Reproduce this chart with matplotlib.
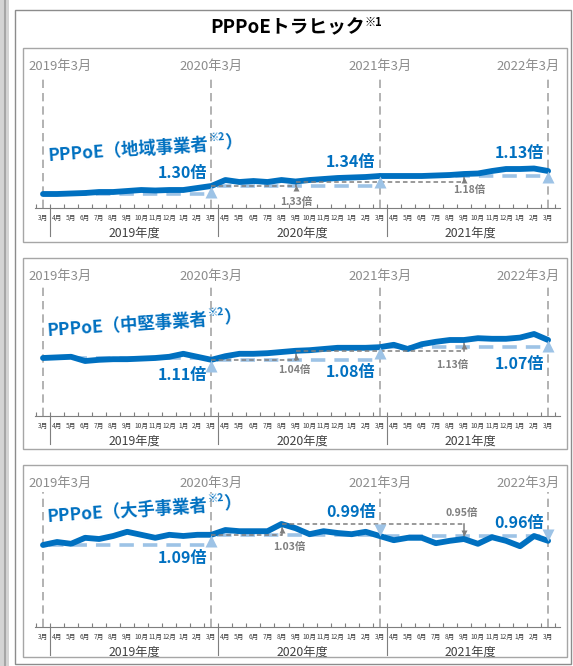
import numpy as np
import matplotlib
matplotlib.use('Agg')
import matplotlib.pyplot as plt
from matplotlib.patches import Rectangle
from matplotlib.lines import Line2D
from matplotlib.transforms import offset_copy

plt.rcParams['font.family'] = ['Noto Sans CJK JP', 'DejaVu Sans']

# ---- data (relative traffic, 2019年3月 = 1.00) ----
months = ['3月'] + ['4月', '5月', '6月', '7月', '8月', '9月', '10月', '11月',
                    '12月', '1月', '2月', '3月'] * 3
fy_labels = ['2019年度', '2020年度', '2021年度']
march_labels = ['2019年3月', '2020年3月', '2021年3月', '2022年3月']
panel_names = ['地域事業者', '中堅事業者', '大手事業者']

regional = [1.00, 1.00, 1.02, 1.04, 1.08, 1.08, 1.12, 1.16, 1.14, 1.16, 1.16, 1.24, 1.32,
            1.56, 1.48, 1.52, 1.48, 1.56, 1.50, 1.56, 1.60, 1.64, 1.66, 1.68, 1.72,
            1.72, 1.72, 1.72, 1.74, 1.76, 1.80, 1.82, 1.92, 2.00, 2.00, 2.02, 1.92]
midsize = [1.00, 1.01, 1.02, 0.95, 0.97, 0.98, 0.98, 0.99, 1.00, 1.02, 1.07, 1.02, 0.97,
           1.03, 1.07, 1.07, 1.08, 1.10, 1.12, 1.13, 1.15, 1.17, 1.17, 1.17, 1.18,
           1.22, 1.15, 1.23, 1.27, 1.30, 1.30, 1.33, 1.32, 1.32, 1.34, 1.40, 1.30]
large = [1.00, 1.05, 1.02, 1.12, 1.10, 1.15, 1.22, 1.17, 1.12, 1.17, 1.15, 1.17, 1.17,
         1.25, 1.23, 1.23, 1.23, 1.35, 1.28, 1.18, 1.23, 1.20, 1.18, 1.22, 1.15,
         1.08, 1.12, 1.12, 1.03, 1.07, 1.10, 1.02, 1.13, 1.07, 0.98, 1.15, 1.07]

# year-on-year ratios (March vs previous March)
yoy_regional = [1.30, 1.34, 1.13]
yoy_midsize = [1.11, 1.08, 1.07]
yoy_large = [1.09, 0.99, 0.96]

# intermediate comparisons: (from month index, to month index), ratio
mid_regional = [((12, 18), 1.33), ((18, 30), 1.18)]
mid_midsize = [((12, 18), 1.04), ((18, 30), 1.13)]
mid_large = [((12, 17), 1.03), ((17, 30), 0.95)]

series = [regional, midsize, large]
yoys = [yoy_regional, yoy_midsize, yoy_large]
mids = [mid_regional, mid_midsize, mid_large]

# ---- layout (pixels of the 573x666 picture) ----
W, H = 573, 666
BLUE = '#0070C0'
LIGHT = '#9DC3E6'
GRAY = '#7f7f7f'

layout = [
    dict(box=(23, 48, 567, 242), axis_y=208, top_y=75, ref=(194, 25), name_xy=(145, 149),
         yoy_dy=[-13, -14, -18], mid_off=[(1, 16), (5, 8)]),
    dict(box=(23, 258, 567, 449), axis_y=416, top_y=285, ref=(358, 60), name_xy=(144, 324),
         yoy_dy=[15, 25, 24], mid_off=[(-1, 10), (-12, 14)]),
    dict(box=(23, 465, 567, 657), axis_y=627, top_y=492, ref=(545, 60), name_xy=(144, 510),
         yoy_dy=[23, -24, -18], mid_off=[(8, 12), (-2, -11)]),
]

fig = plt.figure(figsize=(W / 100, H / 100), dpi=100)
renderer = fig.canvas.get_renderer()


def pixbox(x0, y0, x1, y1, **kw):
    fig.add_artist(Rectangle((x0 / W, 1 - y1 / H), (x1 - x0) / W, (y1 - y0) / H,
                             transform=fig.transFigure, fill=False, **kw))


def draw_pieces(cx, cy, pieces, angle=0, **kw):
    """Draw a run of text pieces (text, size, rise in pt) centred at pixel (cx, cy)."""
    widths = []
    for s, size, rise in pieces:
        t = fig.text(0, 0, s, fontsize=size, **kw)
        widths.append(t.get_window_extent(renderer).width)
        t.remove()
    a = np.radians(angle)
    ux, uy = np.cos(a), np.sin(a)
    total = sum(widths)
    px, py = cx - ux * total / 2, (H - cy) - uy * total / 2
    for (s, size, rise), w in zip(pieces, widths):
        r = rise * 100 / 72
        fig.text((px - uy * r) / W, (py + ux * r) / H, s, fontsize=size, rotation=angle,
                 rotation_mode='anchor', ha='left', va='center', **kw)
        px += ux * w
        py += uy * w


# left window strip and outer frame
fig.add_artist(Rectangle((0, 0), 9 / W, 1, transform=fig.transFigure,
                         facecolor='#d4d4d4', edgecolor='none'))
fig.add_artist(Line2D([5 / W, 5 / W], [0, 1], transform=fig.transFigure, color='#a6a6a6', lw=1.5))
pixbox(14.5, 9.5, 571, 664, edgecolor='#8c8c8c', lw=1)

draw_pieces(296, 28, [('PPPoEトラヒック', 13.5, 0), ('※1', 8, 4)],
            fontweight='bold', color='black')

x0_px, dx_px = 43, 14.03
xlim = ((35 - x0_px) / dx_px, (560 - x0_px) / dx_px)
x = np.arange(len(months))

for vals, yoy, mid, lay, name in zip(series, yoys, mids, layout, panel_names):
    pixbox(*lay['box'], edgecolor='#a6a6a6', lw=1)
    ay, ty = lay['axis_y'], lay['top_y']
    y0, k = lay['ref']
    h = ay - ty
    ax = fig.add_axes([35 / W, 1 - ay / H, 525 / W, h / H])
    ax.patch.set_alpha(0)
    ax.set_xlim(*xlim)
    ax.set_ylim(1 + (y0 - ay) / k, 1 + (y0 - ty) / k)
    for side in ['top', 'left', 'right']:
        ax.spines[side].set_visible(False)
    ax.spines['bottom'].set_color(GRAY)
    ax.set_yticks([])
    ax.set_xticks(x)
    ax.set_xticklabels(months, fontsize=4.8, color='#404040')
    ax.tick_params(axis='x', which='major', length=0, pad=4.5)
    ax.set_xticks(np.arange(-0.5, len(months), 1), minor=True)
    ax.tick_params(axis='x', which='minor', direction='in', length=3, width=0.8, color=GRAY)

    xt = ax.get_xaxis_transform()
    for j in range(3):
        sep = 12 * j + 0.5
        ax.plot([sep, sep], [0, -28 / h], transform=xt, clip_on=False, color=GRAY, lw=0.8)
        ax.text(12 * j + 6.5, -25 / h, fy_labels[j], transform=xt, ha='center', va='center',
                fontsize=8.8, color='#404040')

    # March reference lines and labels
    has = ['left', 'center', 'center', 'right']
    lx = [(28 - x0_px) / dx_px, 12, 24, xlim[1]]
    for j, m in enumerate([0, 12, 24, 36]):
        ax.axvline(m, color='#a6a6a6', lw=1.2, ls=(0, (5, 3)), zorder=0)
        ax.text(lx[j], 1 + 9 / h, march_labels[j], transform=xt, ha=has[j], va='center',
                fontsize=9.5, color='#8c8c8c')

    ax.plot(x, vals, color=BLUE, lw=4.2, solid_joinstyle='round', solid_capstyle='round', zorder=3)

    # year-on-year comparisons
    for j, r in enumerate(yoy):
        s, e = 12 * j, 12 * j + 12
        ax.plot([s + 0.4, e], [vals[s], vals[s]], color=LIGHT, lw=2.6, ls=(0, (4, 2.5)), zorder=1)
        up = r >= 1
        ms = 8.5
        tr = offset_copy(ax.transData, fig=fig, y=-ms / 2 if up else ms / 2, units='points')
        ax.plot(e, vals[e], marker='^' if up else 'v', ms=ms, color=LIGHT, mec='none',
                transform=tr, zorder=5)
        ax.annotate(f'{r:.2f}倍', xy=(e, vals[e]), xytext=(-3, -lay['yoy_dy'][j] * 0.72),
                    textcoords='offset points', ha='right', va='center', fontsize=11.5,
                    fontweight='bold', color=BLUE, zorder=6)

    # intermediate comparisons
    for ((s, e), r), (ox, oy) in zip(mid, lay['mid_off']):
        ax.plot([s, e], [vals[s], vals[s]], color=GRAY, lw=1.1, ls=(0, (3, 2)), zorder=4)
        ax.plot([e, e], [vals[s], vals[e]], color=GRAY, lw=1.1, zorder=2)
        up = vals[e] >= vals[s]
        ms = 5
        tr = offset_copy(ax.transData, fig=fig, y=-(ms / 2 + 2) if up else ms / 2 + 2, units='points')
        ax.plot(e, vals[e], marker='^' if up else 'v', ms=ms, color=GRAY, mec='none',
                transform=tr, zorder=4)
        ax.annotate(f'{r:.2f}倍', xy=(e, vals[s]), xytext=(ox * 0.72, -oy * 0.72),
                    textcoords='offset points', ha='center', va='center', fontsize=7.5,
                    fontweight='bold', color=GRAY, zorder=6)

    nx, ny = lay['name_xy']
    draw_pieces(nx, ny, [('PPPoE（' + name, 12.5, 0), ('※2', 7.5, 5), ('）', 12.5, 0)],
                angle=4, fontweight='bold', color=BLUE)

fig.savefig('out.png', dpi=100)
